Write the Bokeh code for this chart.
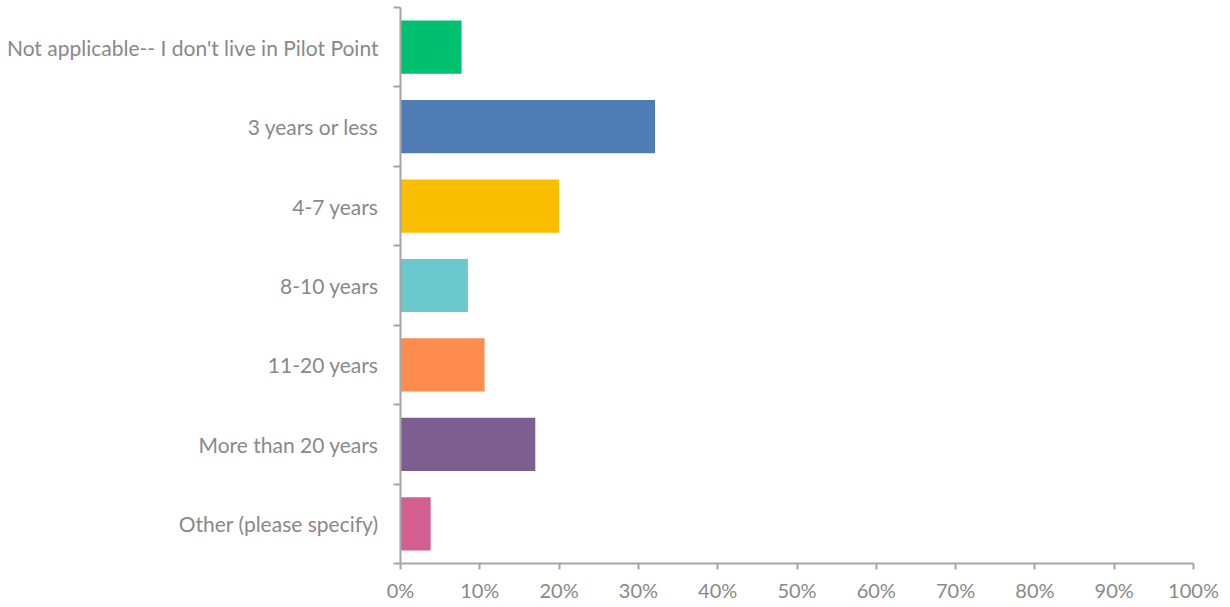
from bokeh.plotting import figure
from bokeh.models import Range1d, FixedTicker, PrintfTickFormatter, ColumnDataSource
from bokeh.embed import file_html
from bokeh.resources import INLINE

# Survey answers: how long the respondent has lived in Pilot Point
categories = [
    "Not applicable-- I don't live in Pilot Point",
    "3 years or less",
    "4-7 years",
    "8-10 years",
    "11-20 years",
    "More than 20 years",
    "Other (please specify)",
]
percents = [7.7, 32.1, 20.0, 8.5, 10.6, 17.0, 3.8]
colors = ["#00BF6F", "#507CB6", "#F9BE00", "#6BC8CD", "#FF8B4F", "#7D5E90", "#D25F90"]
x_ticks = [0, 10, 20, 30, 40, 50, 60, 70, 80, 90, 100]

n = len(categories)
# first answer sits at the top
ypos = [n - 1 - i for i in range(n)]

source = ColumnDataSource(dict(y=ypos, pct=percents, color=colors, label=categories))

axis_gray = "#A6A6A6"
text_gray = "#898989"
font = "Lato"

p = figure(
    width=1230, height=607,
    x_range=Range1d(0, 100), y_range=Range1d(-0.5, n - 0.5),
    output_backend="svg", toolbar_location=None,
    min_border_left=400, min_border_right=37, min_border_top=7, min_border_bottom=44,
)
p.hbar(y="y", left=0, right="pct", height=0.67, color="color", line_color=None, source=source)

p.grid.visible = False
p.outline_line_color = None
p.background_fill_color = "white"
p.border_fill_color = "white"

# x axis: percent scale with outward ticks
xa = p.xaxis[0]
xa.ticker = FixedTicker(ticks=x_ticks, minor_ticks=[])
xa.formatter = PrintfTickFormatter(format="%d%%")
xa.axis_line_color = axis_gray
xa.axis_line_width = 2
xa.major_tick_line_color = axis_gray
xa.major_tick_line_width = 2
xa.major_tick_out = 6
xa.major_tick_in = 0
xa.minor_tick_out = 0
xa.minor_tick_in = 0
xa.major_label_text_color = text_gray
xa.major_label_text_font = font
xa.major_label_text_font_size = "20px"
xa.major_label_standoff = 8

# y axis: labels at category centres, tick marks on the boundaries between them
ya = p.yaxis[0]
ya.ticker = FixedTicker(ticks=ypos, minor_ticks=[i - 0.5 for i in range(n + 1)])
ya.major_label_overrides = {y: lab for y, lab in zip(ypos, categories)}
ya.axis_line_color = axis_gray
ya.axis_line_width = 2
ya.major_tick_line_color = None
ya.major_tick_out = 0
ya.major_tick_in = 0
ya.minor_tick_line_color = axis_gray
ya.minor_tick_line_width = 2
ya.minor_tick_out = 7
ya.minor_tick_in = 0
ya.major_label_text_color = text_gray
ya.major_label_text_font = font
ya.major_label_text_font_size = "21px"
ya.major_label_standoff = 15

open("out.html", "w").write(file_html(p, INLINE))
